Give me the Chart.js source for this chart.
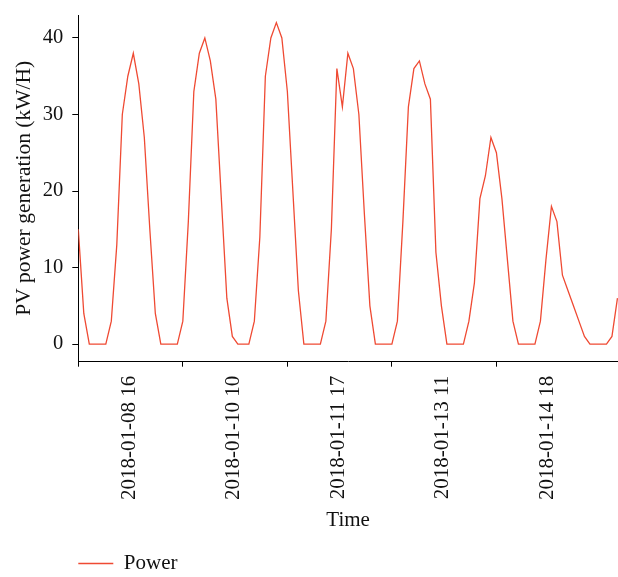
<!DOCTYPE html>
<html>
<head>
<meta charset="utf-8">
<script src="https://cdn.jsdelivr.net/npm/chart.js@4/dist/chart.umd.min.js"></script>
<style>
  html, body { margin: 0; padding: 0; background: #ffffff; }
  canvas { display: block; }
</style>
</head>
<body>
<canvas id="c" width="618" height="577"></canvas>
<script>
// ---- data ----
const power = [
  15, 4, 0, 0, 0, 0, 3, 13, 30, 35, 38, 34, 27,
  15, 4, 0, 0, 0, 0, 3, 16, 33, 38, 40, 37, 32,
  19, 6, 1, 0, 0, 0, 3, 14, 35, 40, 42, 40, 33,
  20, 7, 0, 0, 0, 0, 3, 15, 36, 31, 38, 36, 30,
  17, 5, 0, 0, 0, 0, 3, 16, 31, 36, 37, 34, 32,
  12, 5, 0, 0, 0, 0, 3, 8, 19, 22, 27, 25, 19,
  11, 3, 0, 0, 0, 0, 3, 11, 18, 16, 9, 7, 5,
  3, 1, 0, 0, 0, 0, 1, 6
];
const xTickIndex = [0, 19, 38, 57, 76];
const xTickLabels = ["2018-01-08 16", "2018-01-10 10", "2018-01-11 17", "2018-01-13 11", "2018-01-14 18"];
const yTicks = [0, 10, 20, 30, 40];
const seriesName = "Power";

const points = power.map((v, i) => ({ x: i, y: v }));

const legendPlace = {
  id: 'legendPlace',
  afterLayout(chart) {
    const l = chart.legend;
    if (!l) return;
    const dx = 74.3 - l.left;
    l.left += dx; l.right += dx;
    l.top += 7; l.bottom += 7;
  }
};

const serif = "'Liberation Serif', 'Times New Roman', serif";

new Chart(document.getElementById('c'), {
  type: 'line',
  data: {
    datasets: [{
      label: seriesName,
      data: points,
      borderColor: '#ef4a33',
      backgroundColor: '#ef4a33',
      borderWidth: 1.3,
      pointRadius: 0,
      tension: 0,
      fill: false
    }]
  },
  options: {
    responsive: false,
    animation: false,
    layout: { padding: { top: 15, right: 0, bottom: 0, left: 0 } },
    plugins: {
      tooltip: { enabled: false },
      legend: {
        position: 'bottom',
        align: 'start',
        labels: {
          usePointStyle: true,
          pointStyle: 'line',
          pointStyleWidth: 35,
          padding: 4,
          color: '#111111',
          font: { family: serif, size: 21 }
        }
      }
    },
    scales: {
      x: {
        type: 'linear',
        min: 0,
        max: 98.1,
        afterBuildTicks(scale) { scale.ticks = xTickIndex.map(v => ({ value: v })); },
        afterFit(scale) { scale.height = 180.3; scale.paddingLeft = 0; scale.paddingRight = 0; },
        grid: { display: true, drawOnChartArea: false, drawTicks: true, tickLength: 5, color: '#000000', lineWidth: 1 },
        border: { display: true, color: '#000000', width: 1 },
        ticks: {
          autoSkip: false,
          minRotation: 90,
          maxRotation: 90,
          labelOffset: 51,
          padding: 9,
          color: '#111111',
          font: { family: serif, size: 21 },
          callback: (v, i) => xTickLabels[i]
        },
        title: {
          display: true,
          text: 'Time',
          color: '#111111',
          font: { family: serif, size: 21 },
          padding: { top: 4, bottom: 9 }
        }
      },
      y: {
        type: 'linear',
        min: -2.3,
        max: 43,
        afterBuildTicks(scale) { scale.ticks = yTicks.map(v => ({ value: v })); },
        afterFit(scale) { scale.width = 78.3; scale.paddingTop = 0; scale.paddingBottom = 0; },
        grid: { display: true, drawOnChartArea: false, drawTicks: true, tickLength: 6, color: '#000000', lineWidth: 1 },
        border: { display: true, color: '#000000', width: 1 },
        ticks: {
          padding: 9,
          color: '#111111',
          font: { family: serif, size: 20.5 }
        },
        title: {
          display: true,
          text: 'PV power generation (kW/H)',
          color: '#111111',
          font: { family: serif, size: 21.5 },
          padding: { top: 11, bottom: 0 }
        }
      }
    }
  },
  plugins: [legendPlace]
});
</script>
</body>
</html>
